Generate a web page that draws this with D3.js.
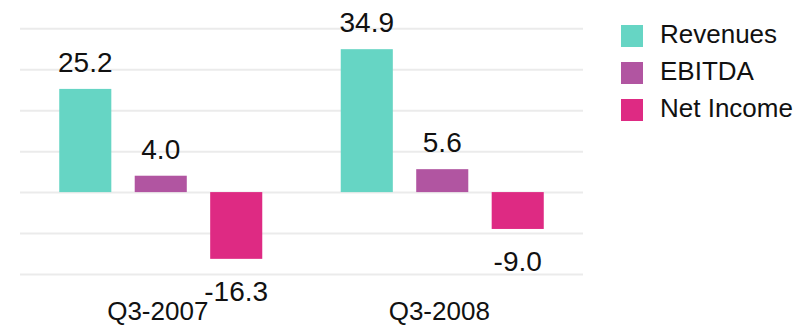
<!DOCTYPE html>
<html>
<head>
<meta charset="utf-8">
<script src="https://cdn.jsdelivr.net/npm/d3@7"></script>
<style>
  html, body { margin: 0; padding: 0; background: #fff; }
  svg { display: block; font-family: "Liberation Sans", Arial, Helvetica, sans-serif; }
</style>
</head>
<body>
<svg id="chart" width="795" height="325"></svg>
<script>
// Quarterly results, in millions
const quarters = ["Q3-2007", "Q3-2008"];
const seriesNames = ["Revenues", "EBITDA", "Net Income"];
const revenues = [25.2, 34.9];
const ebitda = [4.0, 5.6];
const netIncome = [-16.3, -9.0];
const yTicks = [-20, -10, 0, 10, 20, 30, 40];
const colors = ["#66d5c4", "#b155a1", "#de2a83"];

const seriesValues = [revenues, ebitda, netIncome];
const rows = quarters.map((q, i) => ({
  quarter: q,
  values: seriesNames.map((s, j) => ({ series: s, value: seriesValues[j][i], color: colors[j] }))
}));

// Plain hyphen for negative numbers
const fmt = d3.formatLocale({ decimal: ".", thousands: ",", grouping: [3], currency: ["", ""], minus: "-" }).format(".1f");

const svg = d3.select("#chart");
const plot = { left: 20, right: 583, top: 28.3, bottom: 274 };

const x0 = d3.scaleBand().domain(quarters).range([plot.left, plot.right]).paddingInner(0).paddingOuter(0);
const x1 = d3.scaleBand().domain(seriesNames).range([0, x0.bandwidth()]).paddingInner(0.31).paddingOuter(0.52);
const y = d3.scaleLinear().domain([-20, 40]).range([plot.bottom, plot.top]);

// Horizontal gridlines
const grid = svg.append("g")
  .attr("transform", `translate(${plot.left},0)`)
  .call(d3.axisLeft(y).tickValues(yTicks).tickSize(-(plot.right - plot.left)).tickFormat(""));
grid.select(".domain").remove();
grid.selectAll(".tick line").attr("stroke", "#ebebeb").attr("stroke-width", 2);

// Bars
const groups = svg.append("g").selectAll("g")
  .data(rows).join("g")
  .attr("transform", d => `translate(${x0(d.quarter)},0)`);

groups.selectAll("rect")
  .data(d => d.values).join("rect")
  .attr("x", d => x1(d.series))
  .attr("width", x1.bandwidth())
  .attr("y", d => y(Math.max(0, d.value)))
  .attr("height", d => Math.abs(y(d.value) - y(0)))
  .attr("fill", d => d.color);

// Value labels
groups.selectAll("text")
  .data(d => d.values).join("text")
  .attr("x", d => x1(d.series) + x1.bandwidth() / 2)
  .attr("y", d => d.value >= 0 ? y(d.value) - 17 : y(d.value) + 42)
  .attr("text-anchor", "middle")
  .attr("font-size", 28)
  .attr("fill", "#111")
  .text(d => fmt(d.value));

// Category labels
svg.append("g").selectAll("text")
  .data(quarters).join("text")
  .attr("x", d => x0(d) + x0.bandwidth() / 2 - 3)
  .attr("y", 320)
  .attr("text-anchor", "middle")
  .attr("font-size", 26)
  .attr("fill", "#111")
  .text(d => d);

// Legend
const legend = svg.append("g").attr("transform", "translate(621,25)");
const item = legend.selectAll("g")
  .data(seriesNames).join("g")
  .attr("transform", (d, i) => `translate(0,${i * 37})`);
item.append("rect").attr("width", 22).attr("height", 22).attr("fill", (d, i) => colors[i]);
item.append("text")
  .attr("x", 39).attr("y", 17.6)
  .attr("font-size", 26)
  .attr("fill", "#111")
  .text(d => d);
</script>
</body>
</html>
